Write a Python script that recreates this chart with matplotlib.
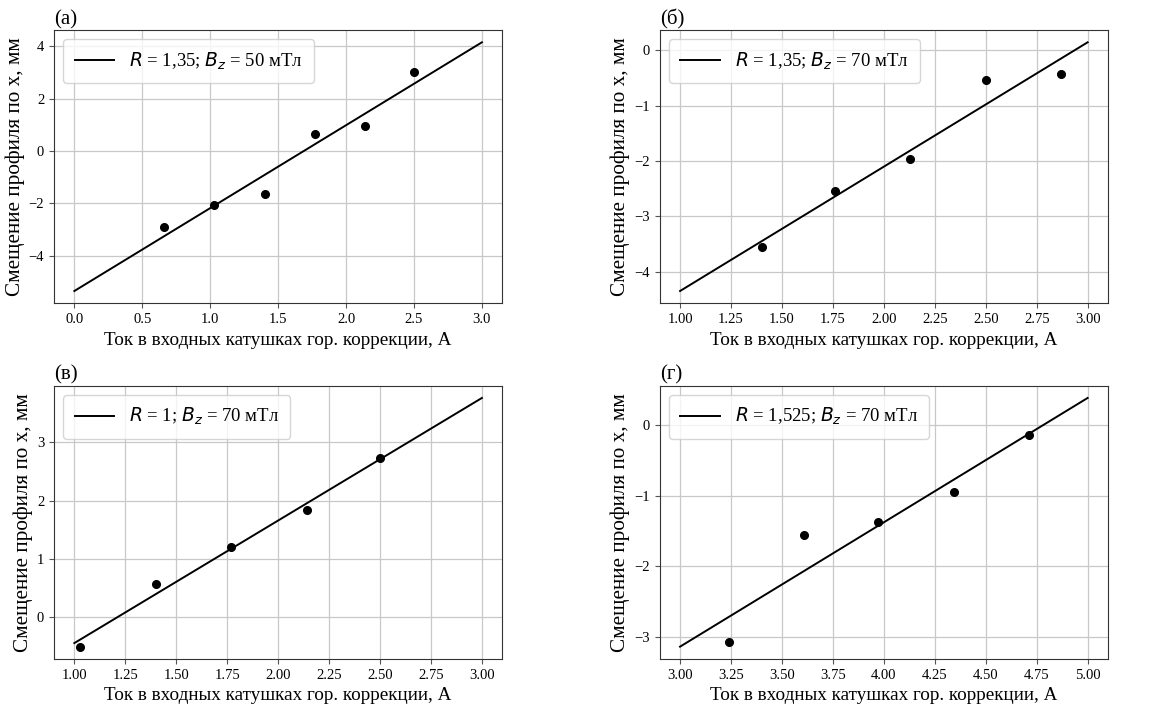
"""Смещение профиля пучка по x в зависимости от тока в катушках гор. коррекции."""

import matplotlib

matplotlib.use("Agg")
import matplotlib.pyplot as plt
import numpy as np
from matplotlib.ticker import FormatStrFormatter, MultipleLocator

plt.rcParams["font.family"] = "serif"
plt.rcParams["font.serif"] = ["Liberation Serif", "DejaVu Serif"]
plt.rcParams["mathtext.fontset"] = "dejavusans"

# --- data --------------------------------------------------------------
PANEL_LABELS = ["(а)", "(б)", "(в)", "(г)"]
LEGEND_LABELS = [
    "$R$ = 1,35; $B_z$ = 50 мТл",
    "$R$ = 1,35; $B_z$ = 70 мТл",
    "$R$ = 1; $B_z$ = 70 мТл",
    "$R$ = 1,525; $B_z$ = 70 мТл",
]

current_a = [0.66, 1.03, 1.40, 1.77, 2.14, 2.50]
shift_a = [-2.89, -2.06, -1.66, 0.65, 0.94, 3.03]

current_b = [1.40, 1.76, 2.13, 2.50, 2.87]
shift_b = [-3.55, -2.55, -1.97, -0.53, -0.43]

current_c = [1.03, 1.40, 1.77, 2.14, 2.50]
shift_c = [-0.50, 0.58, 1.21, 1.84, 2.73]

current_d = [3.24, 3.61, 3.97, 4.345, 4.71]
shift_d = [-3.075, -1.556, -1.378, -0.95, -0.146]

# x-range over which the linear fit is drawn
fit_ranges = [(0.0, 3.0), (1.0, 3.0), (1.0, 3.0), (3.0, 5.0)]

XLABEL = "Ток в входных катушках гор. коррекции, А"
YLABEL = "Смещение профиля по x, мм"

fig, axes = plt.subplots(2, 2, figsize=(11.73, 7.11), dpi=100)
fig.subplots_adjust(left=0.046, right=0.9446, top=0.958, bottom=0.073,
                    wspace=0.351, hspace=0.30)

datasets = [(current_a, shift_a), (current_b, shift_b),
            (current_c, shift_c), (current_d, shift_d)]

for ax, (x, y), (x0, x1), label, panel in zip(
        axes.flat, datasets, fit_ranges, LEGEND_LABELS, PANEL_LABELS):
    # linear fit through the measured points
    k, b = np.polyfit(x, y, 1)
    xs = np.linspace(x0, x1, 50)
    ax.plot(xs, k * xs + b, color="black", lw=1.4, label=label)
    ax.plot(x, y, "o", color="black", ms=5.5)

    ax.grid(True, color="#c8c8c8", lw=0.9)
    ax.set_axisbelow(True)
    for side in ax.spines.values():
        side.set_color("#333333")
    ax.tick_params(labelsize=10.5, color="#555555")
    ax.set_xlabel(XLABEL, fontsize=13.8)
    ax.set_ylabel(YLABEL, fontsize=15.3, labelpad=3)
    ax.set_title(panel, loc="left", fontsize=15, pad=4)
    ax.legend(loc="upper left", fontsize=13.5, handlelength=2.1,
              borderpad=0.6)

axes[0, 1].set_xticks(np.arange(1.0, 3.01, 0.25))
axes[1, 0].set_xticks(np.arange(1.0, 3.01, 0.25))
axes[1, 1].set_xticks(np.arange(3.0, 5.01, 0.25))
axes[1, 1].yaxis.set_major_locator(MultipleLocator(1))
for ax in axes.flat[1:]:
    ax.xaxis.set_major_formatter(FormatStrFormatter("%.2f"))

fig.savefig("out.png", dpi=100)
